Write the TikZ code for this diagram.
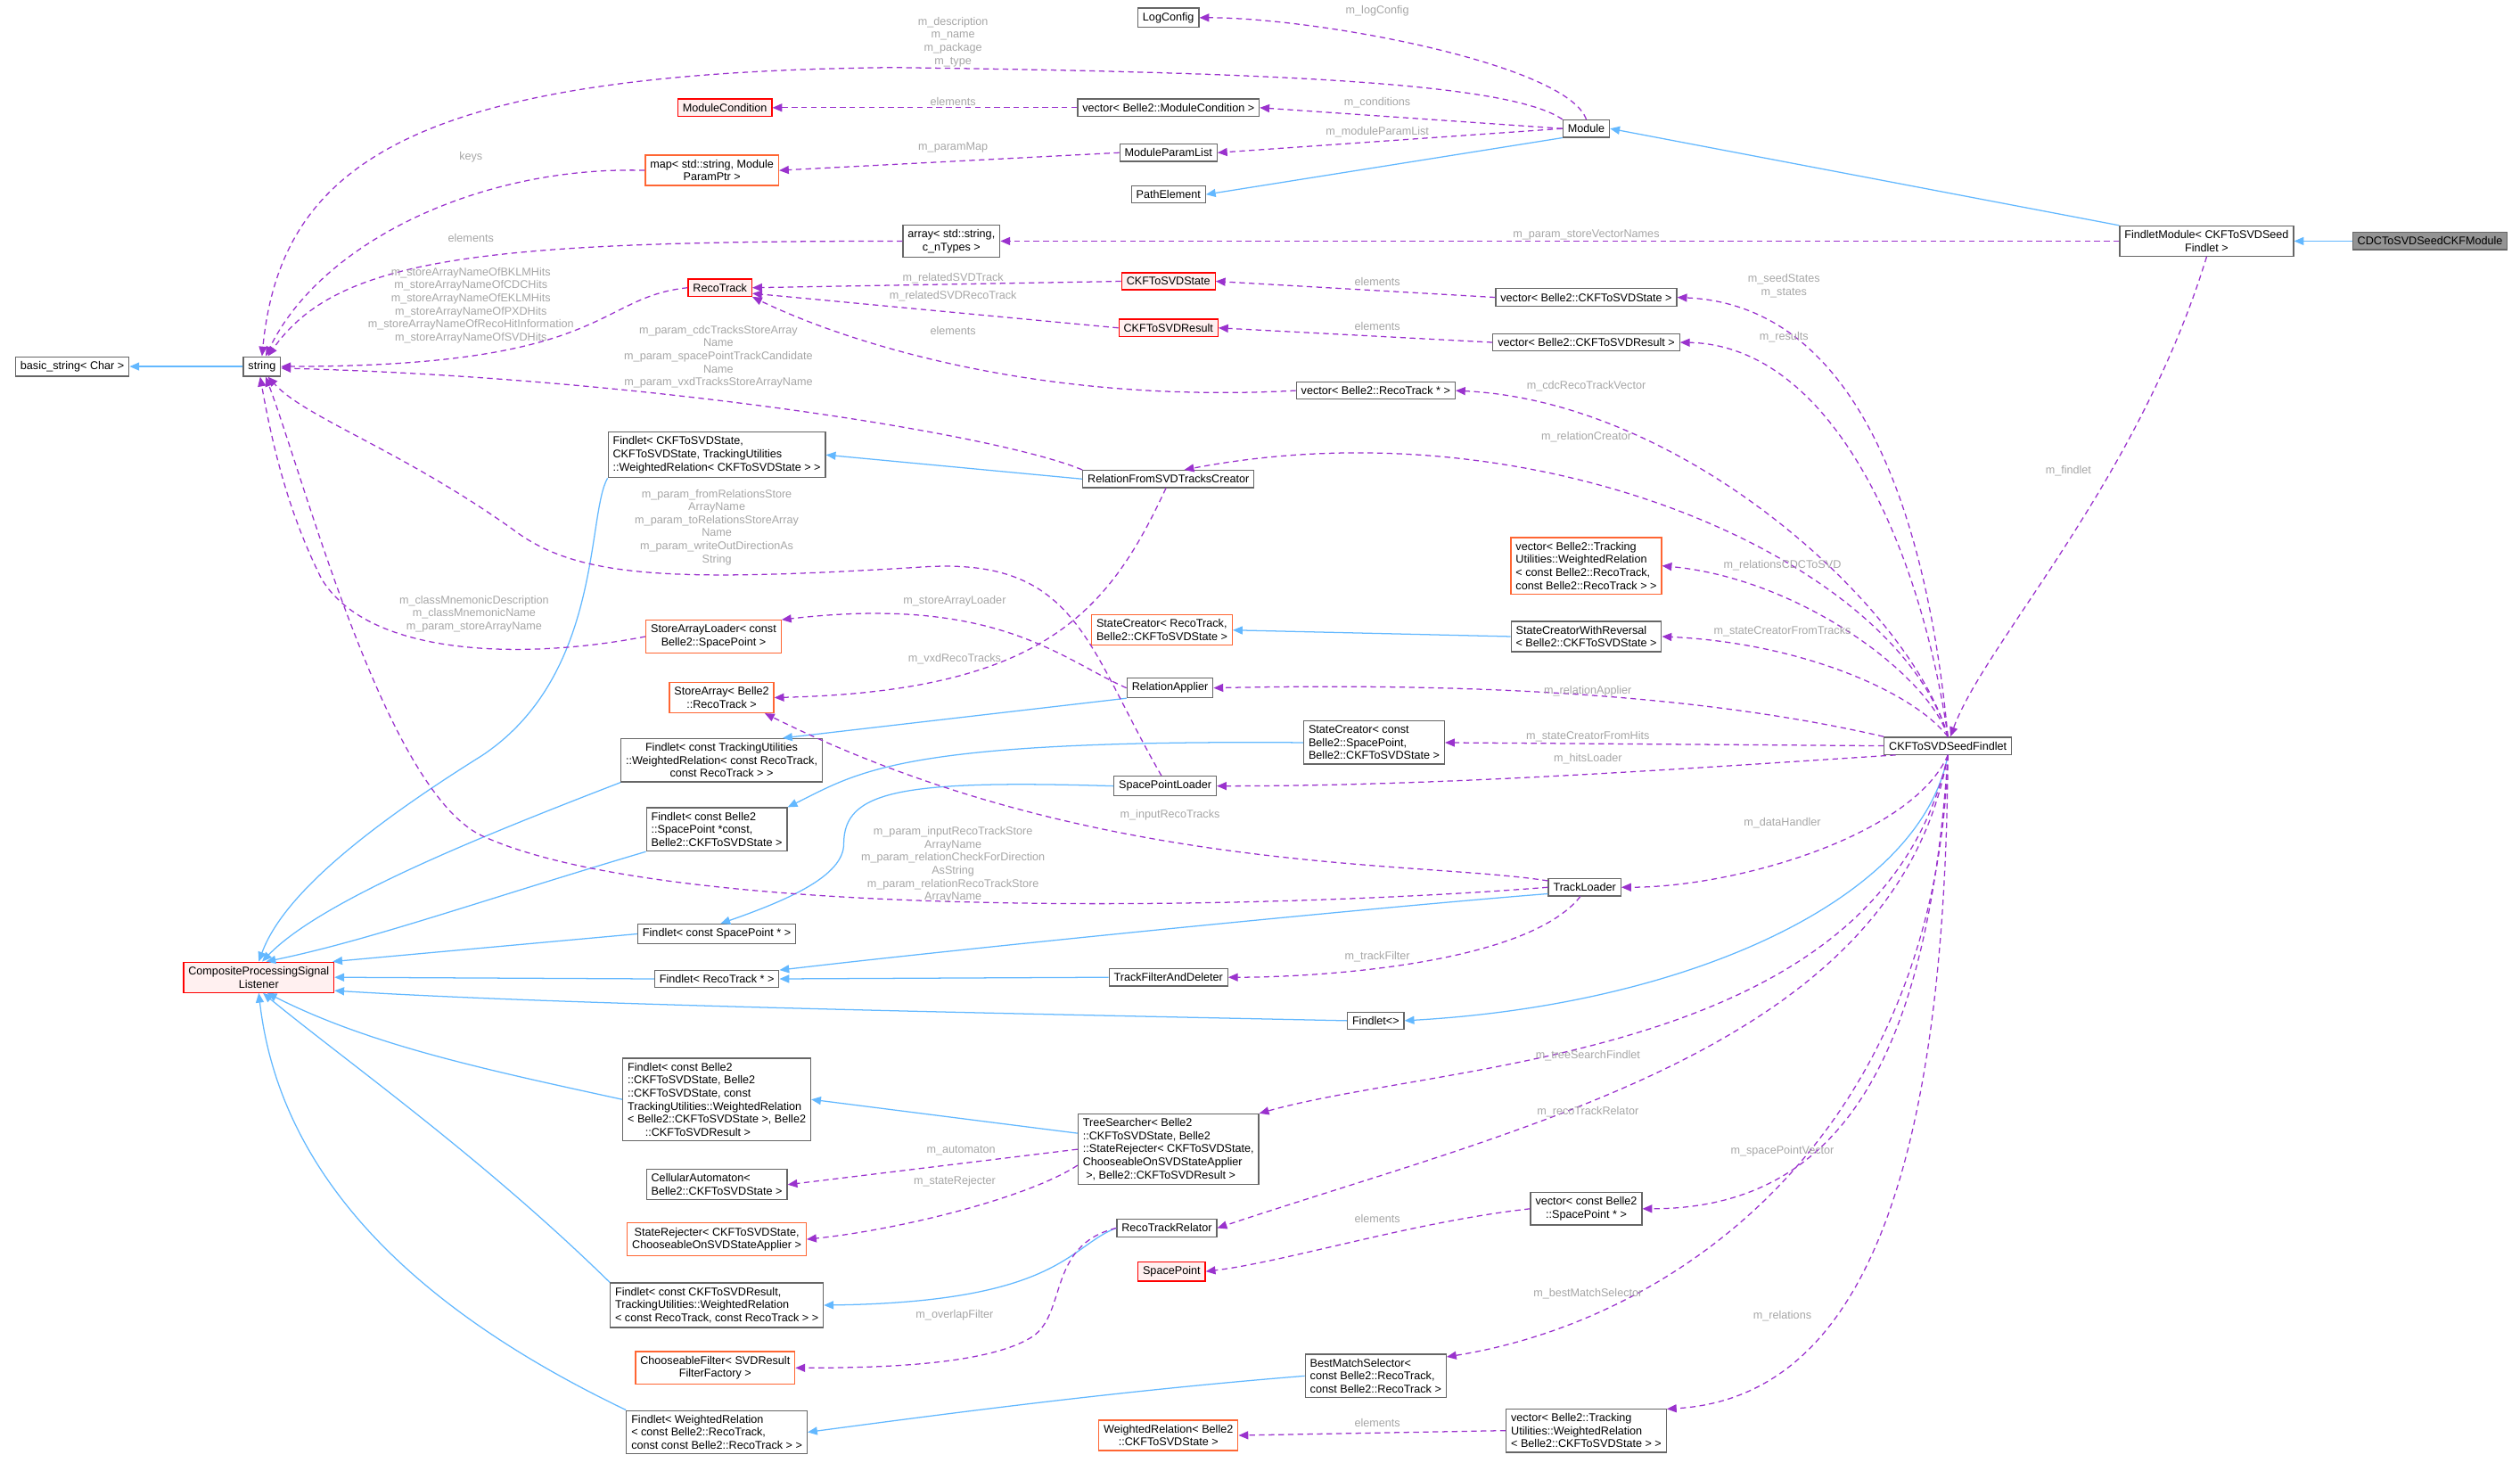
\documentclass[tikz,border=0pt]{standalone}
\usepackage{fontspec}
\setmainfont{Liberation Sans}
\usetikzlibrary{arrows.meta}
\definecolor{dep}{HTML}{9A32CD}
\definecolor{inh}{HTML}{63B8FF}
\definecolor{bord}{HTML}{666666}
\definecolor{lblc}{HTML}{A6A6A6}
\definecolor{redb}{HTML}{FF0000}
\definecolor{redf}{HTML}{FFF0F0}
\definecolor{orb}{HTML}{FF6633}
\begin{document}
\begin{tikzpicture}[x=1pt,y=-1pt,
  every node/.style={font=\fontsize{7}{8.1}\selectfont},
  box/.style={draw=bord,fill=white,line width=0.7pt,inner xsep=3pt,inner ysep=2.8pt,align=center},
  L/.style={align=left},
  red/.style={box,draw=redb,fill=redf},
  org/.style={box,draw=orb},
  dark/.style={box,fill=bord!70,draw=bord},
  lbl/.style={text=lblc,align=center,inner sep=0pt},
  use/.style={draw=dep,line width=0.7pt,dash pattern=on 3.5pt off 2.5pt,-{Triangle[length=6pt,width=5pt]}},
  isa/.style={draw=inh,line width=0.7pt,-{Triangle[length=6pt,width=5pt]}}]
\useasboundingbox (0,0) rectangle (1568,910);
% nodes
\node[box] (lc) at (727,11) {LogConfig};
\node[red] (mc) at (451,67) {ModuleCondition};
\node[box] (vmc) at (727,67) {vector< Belle2::ModuleCondition >};
\node[box] (mod) at (987,80) {Module};
\node[org] (map) at (443,106) {map< std::string, Module\\ParamPtr >};
\node[box] (mpl) at (727,95) {ModuleParamList};
\node[box] (pe) at (727,121) {PathElement};
\node[box] (arr) at (592,150) {array< std::string,\\ c\_nTypes >};
\node[box] (fm) at (1373,150) {FindletModule< CKFToSVDSeed\\Findlet >};
\node[dark] (cdc) at (1512,150) {CDCToSVDSeedCKFModule};
\node[box] (bs) at (45,228) {basic\_string< Char >};
\node[box] (str) at (163,228) {string};
\node[red] (rt) at (448,179) {RecoTrack};
\node[red] (st) at (727,175) {CKFToSVDState};
\node[red] (res) at (727,204) {CKFToSVDResult};
\node[box] (vst) at (987,185) {vector< Belle2::CKFToSVDState >};
\node[box] (vres) at (987,213) {vector< Belle2::CKFToSVDResult >};
\node[box] (vrt) at (856,243) {vector< Belle2::RecoTrack * >};
\node[box,L] (f1) at (446,283) {Findlet< CKFToSVDState,\\ CKFToSVDState, TrackingUtilities\\::WeightedRelation< CKFToSVDState > >};
\node[box] (rfs) at (727,298) {RelationFromSVDTracksCreator};
\node[org,L] (vwr) at (987,352) {vector< Belle2::Tracking\\Utilities::WeightedRelation\\< const Belle2::RecoTrack,\\ const Belle2::RecoTrack > >};
\node[org,L] (scrt) at (723,392) {StateCreator< RecoTrack,\\ Belle2::CKFToSVDState >};
\node[box,L] (scwr) at (987,396) {StateCreatorWithReversal\\< Belle2::CKFToSVDState >};
\node[org] (sal) at (444,396) {StoreArrayLoader< const\\Belle2::SpacePoint >};
\node[org] (sa) at (449,434) {StoreArray< Belle2\\::RecoTrack >};
\node[box] (ra) at (728,428) {RelationApplier};
\node[box] (f2) at (449,473) {Findlet< const TrackingUtilities\\::WeightedRelation< const RecoTrack,\\const RecoTrack > >};
\node[box,L] (sccs) at (855,462) {StateCreator< const\\ Belle2::SpacePoint,\\ Belle2::CKFToSVDState >};
\node[box] (csf) at (1212,464) {CKFToSVDSeedFindlet};
\node[box,L] (f3) at (446,516) {Findlet< const Belle2\\::SpacePoint *const,\\ Belle2::CKFToSVDState >};
\node[box] (spl) at (725,489) {SpacePointLoader};
\node[box] (tl) at (986,552) {TrackLoader};
\node[box] (f4) at (446,581) {Findlet< const SpacePoint * >};
\node[red] (cpsl) at (161,608) {CompositeProcessingSignal\\Listener};
\node[box] (fr) at (446,609) {Findlet< RecoTrack * >};
\node[box] (tfd) at (727,608) {TrackFilterAndDeleter};
\node[box] (fe) at (856,635) {Findlet<>};
\node[box,L] (f5) at (446,684) {Findlet< const Belle2\\::CKFToSVDState, Belle2\\::CKFToSVDState, const\\ TrackingUtilities::WeightedRelation\\< Belle2::CKFToSVDState >, Belle2\\ \quad\ \ ::CKFToSVDResult >};
\node[box,L] (ts) at (727,715) {TreeSearcher< Belle2\\::CKFToSVDState, Belle2\\::StateRejecter< CKFToSVDState,\\ ChooseableOnSVDStateApplier\\ \ >, Belle2::CKFToSVDResult >};
\node[box,L] (ca) at (446,737) {CellularAutomaton<\\ Belle2::CKFToSVDState >};
\node[org] (sr) at (446,771) {StateRejecter< CKFToSVDState,\\ChooseableOnSVDStateApplier >};
\node[box] (rtr) at (726,764) {RecoTrackRelator};
\node[box] (vsp) at (987,752) {vector< const Belle2\\::SpacePoint * >};
\node[red] (sp) at (729,791) {SpacePoint};
\node[box,L] (f6) at (446,812) {Findlet< const CKFToSVDResult,\\ TrackingUtilities::WeightedRelation\\< const RecoTrack, const RecoTrack > >};
\node[org] (cf) at (445,851) {ChooseableFilter< SVDResult\\FilterFactory >};
\node[box,L] (bms) at (856,856) {BestMatchSelector<\\ const Belle2::RecoTrack,\\ const Belle2::RecoTrack >};
\node[box,L] (f7) at (446,891) {Findlet< WeightedRelation\\< const Belle2::RecoTrack,\\ const const Belle2::RecoTrack > >};
\node[org] (wr) at (727,893) {WeightedRelation< Belle2\\::CKFToSVDState >};
\node[box,L] (vwc) at (987,890) {vector< Belle2::Tracking\\Utilities::WeightedRelation\\< Belle2::CKFToSVDState > >};

% inheritance
\draw[isa] (cdc.west) -- (fm.east);
\draw[isa] (fm.north west) -- (mod.east);
\draw[isa] (mod.south west) -- (pe.east);
\draw[isa] (str.west) -- (bs.east);
\draw[isa] (rfs.west) -- (f1.east);
\draw[isa] (scwr.west) -- (scrt.east);
\draw[isa] (ra.south west) -- (f2.20);
\draw[isa] (sccs.west) .. controls (560,460) and (535,480) .. (f3.north east);
\draw[isa] (spl.west) .. controls (560,485) and (525,492) .. (525,525) .. controls (525,545) and (490,560) .. (f4.70);
\draw[isa] (tl.-170) .. controls (850,565) and (600,590) .. (fr.8);
\draw[isa] (tfd.west) -- (fr.east);
\draw[isa] (csf.south) .. controls (1195,560) and (1050,625) .. (fe.east);
\draw[isa] (fe.west) .. controls (600,630) and (350,625) .. (cpsl.-10);
\draw[isa] (fr.west) -- (cpsl.east);
\draw[isa] (f4.west) -- (cpsl.12);
\draw[isa] (f3.south west) .. controls (300,560) and (230,585) .. (cpsl.65);
\draw[isa] (f2.south west) .. controls (300,520) and (200,560) .. (cpsl.78);
\draw[isa] (f1.south west) .. controls (365,320) and (375,420) .. (300,470) .. controls (220,520) and (175,560) .. (cpsl.north);
\draw[isa] (f5.west) .. controls (300,665) and (230,650) .. (cpsl.-62);
\draw[isa] (f6.north west) .. controls (300,720) and (215,660) .. (cpsl.-75);
\draw[isa] (f7.north west) .. controls (270,820) and (175,740) .. (cpsl.south);
\draw[isa] (ts.170) -- (f5.east);
\draw[isa] (rtr.west) .. controls (665,775) and (660,810) .. (f6.east);
\draw[isa] (bms.west) .. controls (700,865) and (600,878) .. (f7.east);

% usage
\draw[use] (mod.north) .. controls (975,40) and (820,11) .. (lc.east);
\draw[use] (mod.north west) .. controls (940,52) and (800,45) .. (555,42) .. controls (260,45) and (175,100) .. (str.north);
\draw[use] (mod.west) -- (vmc.east);
\draw[use] (mod.west) -- (mpl.east);
\draw[use] (vmc.west) -- (mc.east);
\draw[use] (mpl.west) -- (map.east);
\draw[use] (map.west) .. controls (300,103) and (200,150) .. (str.70);
\draw[use] (arr.west) .. controls (300,150) and (210,160) .. (str.60);
\draw[use] (rt.west) .. controls (370,185) and (380,228) .. (str.east);
\draw[use] (st.west) -- (rt.east);
\draw[use] (res.west) -- (rt.-10);
\draw[use] (vrt.west) .. controls (640,252) and (520,210) .. (rt.south east);
\draw[use] (vst.west) -- (st.east);
\draw[use] (vres.west) -- (res.east);
\draw[use] (fm.west) -- (arr.east);
\draw[use] (fm.south) .. controls (1330,300) and (1235,400) .. (csf.75);
\draw[use] (csf.north) .. controls (1200,330) and (1160,190) .. (vst.east);
\draw[use] (csf.north) .. controls (1195,340) and (1140,215) .. (vres.east);
\draw[use] (csf.north) .. controls (1190,380) and (1050,250) .. (vrt.east);
\draw[use] (csf.north) .. controls (1180,350) and (960,250) .. (rfs.30);
\draw[use] (csf.north) .. controls (1200,420) and (1120,360) .. (vwr.east);
\draw[use] (csf.north) .. controls (1190,430) and (1120,400) .. (scwr.east);
\draw[use] (csf.north west) .. controls (1050,430) and (900,425) .. (ra.east);
\draw[use] (csf.west) -- (sccs.east);
\draw[use] (csf.-170) .. controls (1050,478) and (900,489) .. (spl.east);
\draw[use] (csf.south) .. controls (1190,520) and (1080,552) .. (tl.east);
\draw[use] (tl.-115) .. controls (950,600) and (820,608) .. (tfd.east);
\draw[use] (tl.170) .. controls (880,535) and (680,545) .. (sa.-20);
\draw[use] (tl.west) .. controls (800,565) and (420,575) .. (300,520) .. controls (240,492) and (190,300) .. (str.-70);
\draw[use] (spl.110) .. controls (675,400) and (670,345) .. (570,353) .. controls (420,362) and (360,360) .. (320,330) .. controls (250,280) and (190,260) .. (str.-60);
\draw[use] (rfs.north west) .. controls (620,270) and (400,235) .. (str.-5);
\draw[use] (rfs.-105) .. controls (690,380) and (650,430) .. (sa.east);
\draw[use] (ra.west) .. controls (660,410) and (620,370) .. (sal.north east);
\draw[use] (sal.west) .. controls (330,410) and (230,410) .. (200,360) .. controls (180,320) and (170,280) .. (str.-100);
\draw[use] (csf.south) .. controls (1170,660) and (900,660) .. (ts.north east);
\draw[use] (csf.south) .. controls (1180,650) and (950,700) .. (rtr.east);
\draw[use] (csf.south) .. controls (1200,650) and (1150,752) .. (vsp.east);
\draw[use] (csf.south) .. controls (1205,700) and (1050,820) .. (bms.15);
\draw[use] (csf.south) .. controls (1210,750) and (1150,870) .. (vwc.15);
\draw[use] (ts.west) -- (ca.east);
\draw[use] (ts.-170) .. controls (640,745) and (560,765) .. (sr.east);
\draw[use] (rtr.west) .. controls (650,775) and (665,820) .. (640,833) .. controls (610,850) and (540,851) .. (cf.east);
\draw[use] (vsp.west) .. controls (880,760) and (800,785) .. (sp.east);
\draw[use] (vwc.west) -- (wr.east);

% labels
\node[lbl] (l1) at (857,7) {m\_logConfig};
\node[lbl] (l2) at (593,26) {m\_description\\m\_name\\m\_package\\m\_type};
\node[lbl] (l3) at (857,64) {m\_conditions};
\node[lbl] (l4) at (857,82) {m\_moduleParamList};
\node[lbl] (l5) at (593,63) {elements};
\node[lbl] (l6) at (593,92) {m\_paramMap};
\node[lbl] (l7) at (293,98) {keys};
\node[lbl] (l8) at (293,148) {elements};
\node[lbl] (l9) at (987,146) {m\_param\_storeVectorNames};
\node[lbl] (l10) at (293,190) {m\_storeArrayNameOfBKLMHits\\m\_storeArrayNameOfCDCHits\\m\_storeArrayNameOfEKLMHits\\m\_storeArrayNameOfPXDHits\\m\_storeArrayNameOfRecoHitInformation\\m\_storeArrayNameOfSVDHits};
\node[lbl] (l11) at (593,173) {m\_relatedSVDTrack};
\node[lbl] (l12) at (593,184) {m\_relatedSVDRecoTrack};
\node[lbl] (l13) at (593,206) {elements};
\node[lbl] (l14) at (857,175) {elements};
\node[lbl] (l15) at (857,203) {elements};
\node[lbl] (l16) at (1110,178) {m\_seedStates\\m\_states};
\node[lbl] (l17) at (1110,210) {m\_results};
\node[lbl] (l18) at (987,240) {m\_cdcRecoTrackVector};
\node[lbl] (l19) at (987,272) {m\_relationCreator};
\node[lbl] (l20) at (1287,293) {m\_findlet};
\node[lbl] (l21) at (447,222) {m\_param\_cdcTracksStoreArray\\Name\\m\_param\_spacePointTrackCandidate\\Name\\m\_param\_vxdTracksStoreArrayName};
\node[lbl] (l22) at (446,328) {m\_param\_fromRelationsStore\\ArrayName\\m\_param\_toRelationsStoreArray\\Name\\m\_param\_writeOutDirectionAs\\String};
\node[lbl] (l23) at (295,382) {m\_classMnemonicDescription\\m\_classMnemonicName\\m\_param\_storeArrayName};
\node[lbl] (l24) at (594,374) {m\_storeArrayLoader};
\node[lbl] (l25) at (594,410) {m\_vxdRecoTracks};
\node[lbl] (l26) at (728,507) {m\_inputRecoTracks};
\node[lbl] (l27) at (593,538) {m\_param\_inputRecoTrackStore\\ArrayName\\m\_param\_relationCheckForDirection\\AsString\\m\_param\_relationRecoTrackStore\\ArrayName};
\node[lbl] (l28) at (1109,352) {m\_relationsCDCToSVD};
\node[lbl] (l29) at (1109,393) {m\_stateCreatorFromTracks};
\node[lbl] (l30) at (988,430) {m\_relationApplier};
\node[lbl] (l31) at (988,458) {m\_stateCreatorFromHits};
\node[lbl] (l32) at (988,472) {m\_hitsLoader};
\node[lbl] (l33) at (1109,512) {m\_dataHandler};
\node[lbl] (l34) at (857,595) {m\_trackFilter};
\node[lbl] (l35) at (988,657) {m\_treeSearchFindlet};
\node[lbl] (l36) at (988,692) {m\_recoTrackRelator};
\node[lbl] (l37) at (1109,716) {m\_spacePointVector};
\node[lbl] (l38) at (857,758) {elements};
\node[lbl] (l39) at (988,805) {m\_bestMatchSelector};
\node[lbl] (l40) at (1109,819) {m\_relations};
\node[lbl] (l41) at (857,885) {elements};
\node[lbl] (l42) at (598,716) {m\_automaton};
\node[lbl] (l43) at (594,735) {m\_stateRejecter};
\node[lbl] (l44) at (594,818) {m\_overlapFilter};
\end{tikzpicture}
\end{document}
